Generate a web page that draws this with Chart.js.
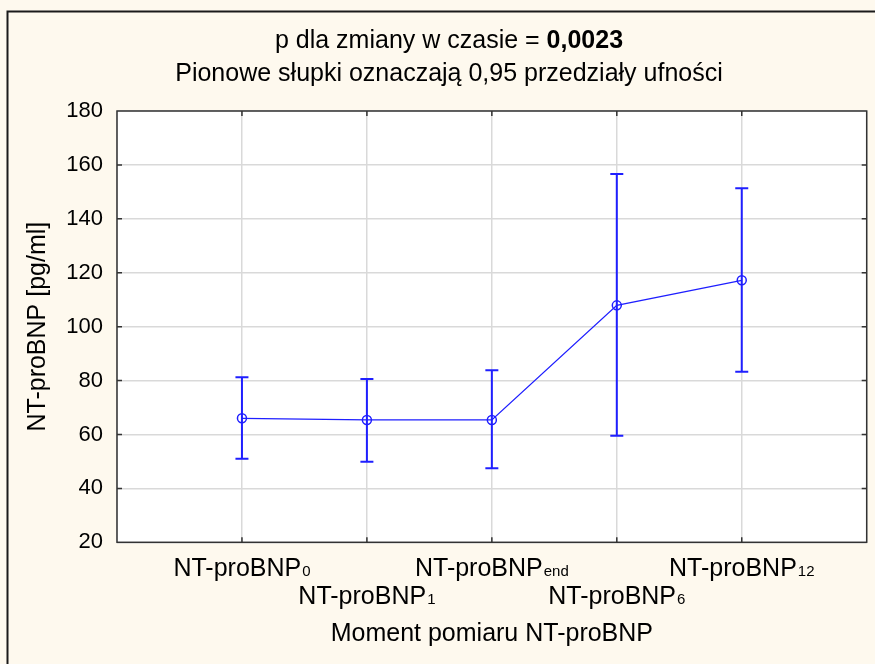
<!DOCTYPE html>
<html lang="pl">
<head>
    <meta charset="UTF-8">
    <title>NT-proBNP - zmiana w czasie</title>
    <style>
        html, body { margin: 0; padding: 0; background: #fef9ee; overflow: hidden; }
        #wrap { width: 875px; height: 664px; position: relative; }
    </style>
    <script src="https://cdn.jsdelivr.net/npm/chart.js"></script>
</head>
<body>
    <div id="wrap">
        <canvas id="chart" width="875" height="664"></canvas>
    </div>

    <script>
        // Momenty pomiaru (nazwa + indeks dolny)
        const labelMain = ['NT-proBNP', 'NT-proBNP', 'NT-proBNP', 'NT-proBNP', 'NT-proBNP'];
        const labelSub = ['0', '1', 'end', '6', '12'];
        const positions = [1, 2, 3, 4, 5];

        // Średnie i 0,95 przedziały ufności [pg/ml]
        const means = [66.0, 65.4, 65.4, 107.9, 117.2];
        const ciLow = [51.0, 49.9, 47.5, 59.5, 83.3];
        const ciHigh = [81.2, 80.6, 83.8, 156.6, 151.3];

        const yMin = 20, yMax = 180, yStep = 20;

        const FONT = "'Liberation Sans', Arial, sans-serif";
        const BLUE = '#1f1fff';
        const TXT = 25;

        // Ramka, słupki błędów, znaczniki osi, etykiety i tytuł
        const decorations = {
            id: 'decorations',
            beforeDraw(chart) {
                const ctx = chart.ctx;
                ctx.save();
                ctx.fillStyle = '#fef9ee';
                ctx.fillRect(0, 0, chart.width, chart.height);
                ctx.fillStyle = '#ffffff';
                const a = chart.chartArea;
                ctx.fillRect(a.left, a.top, a.right - a.left, a.bottom - a.top);
                // zewnętrzna ramka (tylko lewa i górna krawędź mieszczą się w kadrze)
                ctx.strokeStyle = '#1a1a1a';
                ctx.lineWidth = 2;
                ctx.beginPath();
                ctx.moveTo(7.5, chart.height);
                ctx.lineTo(7.5, 11.5);
                ctx.lineTo(chart.width, 11.5);
                ctx.stroke();
                ctx.restore();
            },
            beforeDatasetsDraw(chart) {
                const ctx = chart.ctx;
                const x = chart.scales.x, y = chart.scales.y;
                ctx.save();
                ctx.strokeStyle = BLUE;
                ctx.lineWidth = 2;
                positions.forEach((p, i) => {
                    const px = x.getPixelForValue(p);
                    const top = y.getPixelForValue(ciHigh[i]);
                    const bot = y.getPixelForValue(ciLow[i]);
                    ctx.beginPath();
                    ctx.moveTo(px, top); ctx.lineTo(px, bot);
                    ctx.moveTo(px - 6.5, top); ctx.lineTo(px + 6.5, top);
                    ctx.moveTo(px - 6.5, bot); ctx.lineTo(px + 6.5, bot);
                    ctx.stroke();
                });
                ctx.restore();
            },
            afterDraw(chart) {
                const ctx = chart.ctx;
                const a = chart.chartArea;
                const x = chart.scales.x, y = chart.scales.y;
                ctx.save();

                // obramowanie pola wykresu i znaczniki skierowane do środka
                ctx.strokeStyle = '#333333';
                ctx.lineWidth = 1.5;
                ctx.strokeRect(a.left, a.top, a.right - a.left, a.bottom - a.top);
                ctx.beginPath();
                for (let v = yMin + yStep; v < yMax; v += yStep) {
                    const py = y.getPixelForValue(v);
                    ctx.moveTo(a.left, py); ctx.lineTo(a.left + 5, py);
                    ctx.moveTo(a.right, py); ctx.lineTo(a.right - 5, py);
                }
                positions.forEach(p => {
                    const px = x.getPixelForValue(p);
                    ctx.moveTo(px, a.top); ctx.lineTo(px, a.top + 5);
                    ctx.moveTo(px, a.bottom); ctx.lineTo(px, a.bottom - 5);
                });
                ctx.stroke();

                // etykiety osi X na dwóch poziomach, z indeksem dolnym
                ctx.fillStyle = '#000000';
                ctx.textBaseline = 'alphabetic';
                ctx.textAlign = 'left';
                positions.forEach((p, i) => {
                    const px = x.getPixelForValue(p);
                    const base = i % 2 === 0 ? 576 : 604;
                    ctx.font = TXT + 'px ' + FONT;
                    const w1 = ctx.measureText(labelMain[i]).width;
                    ctx.font = '15px ' + FONT;
                    const w2 = ctx.measureText(labelSub[i]).width;
                    const start = px - (w1 + w2 + 1) / 2;
                    ctx.font = TXT + 'px ' + FONT;
                    ctx.fillText(labelMain[i], start, base);
                    ctx.font = '15px ' + FONT;
                    ctx.fillText(labelSub[i], start + w1 + 1, base);
                });

                // tytuł: pierwsza linia z pogrubioną wartością p
                const cx = 449;
                const t1 = 'p dla zmiany w czasie = ';
                const t2 = '0,0023';
                ctx.font = TXT + 'px ' + FONT;
                const w1 = ctx.measureText(t1).width;
                ctx.font = 'bold ' + TXT + 'px ' + FONT;
                const w2 = ctx.measureText(t2).width;
                const s = cx - (w1 + w2) / 2;
                ctx.textBaseline = 'middle';
                ctx.font = TXT + 'px ' + FONT;
                ctx.fillText(t1, s, 41);
                ctx.font = 'bold ' + TXT + 'px ' + FONT;
                ctx.fillText(t2, s + w1, 41);
                ctx.font = TXT + 'px ' + FONT;
                ctx.textAlign = 'center';
                ctx.fillText('Pionowe słupki oznaczają 0,95 przedziały ufności', cx, 74);
                ctx.restore();
            }
        };

        const ctx = document.getElementById('chart').getContext('2d');
        new Chart(ctx, {
            type: 'line',
            data: {
                datasets: [{
                    data: positions.map((p, i) => ({ x: p, y: means[i] })),
                    borderColor: BLUE,
                    borderWidth: 1.3,
                    pointRadius: 4.5,
                    pointBorderWidth: 1.5,
                    pointBackgroundColor: 'rgba(0,0,0,0)',
                    pointBorderColor: BLUE,
                    tension: 0,
                    fill: false
                }]
            },
            options: {
                responsive: false,
                animation: false,
                layout: { padding: { top: 111, right: 8.3, left: 0, bottom: 0 } },
                plugins: { legend: { display: false }, tooltip: { enabled: false } },
                scales: {
                    x: {
                        type: 'linear',
                        min: 0,
                        max: 6,
                        ticks: { display: false, stepSize: 1 },
                        grid: { color: '#d9d9d9', lineWidth: 1.5, drawTicks: false },
                        border: { display: false },
                        title: {
                            display: true,
                            text: 'Moment pomiaru NT-proBNP',
                            color: '#000000',
                            font: { family: FONT, size: TXT },
                            padding: { top: 0, bottom: 15 }
                        },
                        afterFit: s => { s.height = 121.7; }
                    },
                    y: {
                        min: yMin,
                        max: yMax,
                        ticks: {
                            stepSize: yStep,
                            color: '#000000',
                            padding: 14,
                            font: { family: FONT, size: 22 }
                        },
                        grid: { color: '#d9d9d9', lineWidth: 1.5, drawTicks: false },
                        border: { display: false },
                        title: {
                            display: true,
                            text: 'NT-proBNP [pg/ml]',
                            color: '#000000',
                            font: { family: FONT, size: TXT },
                            padding: { top: 23, bottom: 0 }
                        },
                        afterFit: s => { s.width = 117; }
                    }
                }
            },
            plugins: [decorations]
        });
    </script>
</body>
</html>
